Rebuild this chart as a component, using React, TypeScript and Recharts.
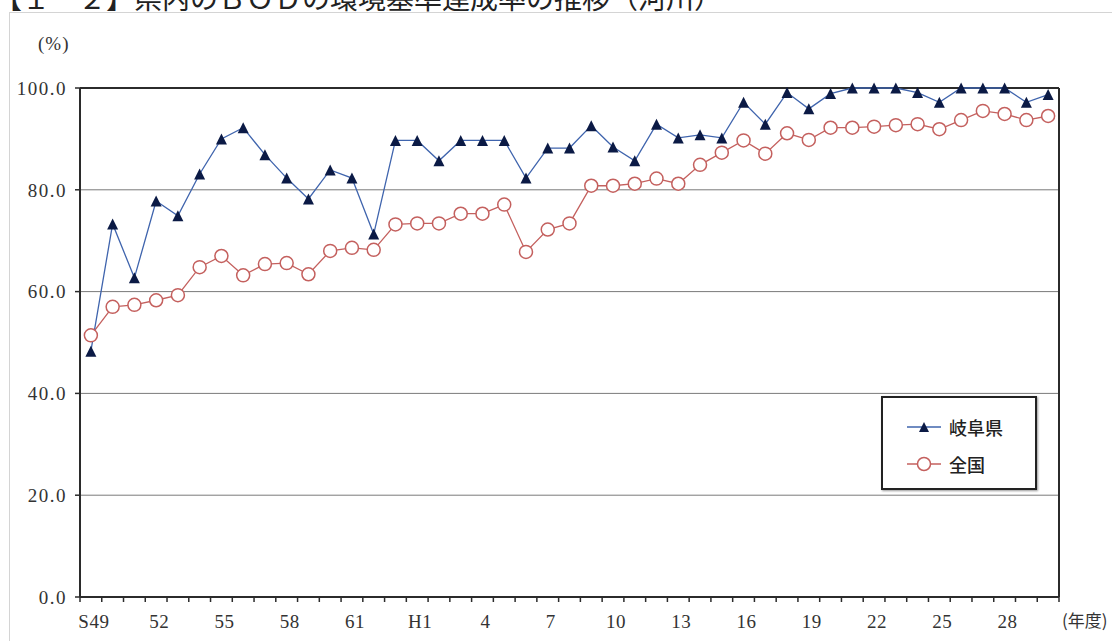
import { LineChart, Line, XAxis, YAxis, CartesianGrid, ReferenceLine, Legend } from "recharts";

// 年度 S49 (1974) .. H30 (2018)
const years = [
  "S49", "S50", "S51", "S52", "S53", "S54", "S55", "S56", "S57", "S58",
  "S59", "S60", "S61", "S62", "S63", "H1", "H2", "H3", "H4", "H5",
  "H6", "H7", "H8", "H9", "H10", "H11", "H12", "H13", "H14", "H15",
  "H16", "H17", "H18", "H19", "H20", "H21", "H22", "H23", "H24", "H25",
  "H26", "H27", "H28", "H29", "H30",
];

// 岐阜県
const gifu = [
  48.3, 73.3, 62.7, 77.8, 74.9, 83.1, 90.0, 92.2, 86.9, 82.3,
  78.2, 83.9, 82.3, 71.3, 89.7, 89.7, 85.7, 89.7, 89.7, 89.7,
  82.3, 88.2, 88.2, 92.6, 88.4, 85.7, 92.9, 90.2, 90.8, 90.2,
  97.2, 92.9, 99.1, 95.9, 98.9, 100, 100, 100, 99.1, 97.2,
  100, 100, 100, 97.2, 98.7,
];

// 全国
const national = [
  51.4, 57.0, 57.4, 58.3, 59.3, 64.8, 67.0, 63.2, 65.4, 65.6,
  63.4, 68.0, 68.6, 68.2, 73.2, 73.4, 73.4, 75.3, 75.3, 77.1,
  67.8, 72.2, 73.4, 80.8, 80.8, 81.2, 82.2, 81.2, 84.9, 87.3,
  89.7, 87.1, 91.1, 89.8, 92.2, 92.2, 92.4, 92.7, 92.9, 91.9,
  93.7, 95.5, 94.9, 93.7, 94.5,
];

const labelYears = ["S49", "S52", "S55", "S58", "S61", "H1", "H4", "H7", "H10", "H13", "H16", "H19", "H22", "H25", "H28"];
const labelText = ["S49", "52", "55", "58", "61", "H1", "4", "7", "10", "13", "16", "19", "22", "25", "28"];
const yTicks = [0, 20, 40, 60, 80, 100];

const title = "【１－２】県内のＢＯＤの環境基準達成率の推移（河川）";

const data = years.map((y, i) => ({ x: i, year: y, gifu: gifu[i], national: national[i] }));

// tick marks sit on the year boundaries, labels on the year centres
const boundaries = years.map((_, i) => i - 0.5).concat([years.length - 0.5]);
const labelIndex = labelYears.map((y) => years.indexOf(y));
const xTicks = [...boundaries, ...labelIndex].sort((a, b) => a - b);

const SERIF = '"Liberation Serif", "DejaVu Serif", serif';
const CJK = '"Noto Sans CJK JP", "Noto Sans", sans-serif';
const BLUE = "#3f64ad";
const NAVY = "#0b1a45";
const RED = "#c4605e";
const AXIS = "#2b2b2b";

function XTick({ x, y, payload }: any) {
  const v = payload.value as number;
  if (!Number.isInteger(v)) {
    return <line x1={x} x2={x} y1={y} y2={y + 5} stroke={AXIS} strokeWidth={1.5} />;
  }
  const k = labelIndex.indexOf(v);
  if (k < 0) return null;
  return (
    <text x={x + 3} y={y + 31} textAnchor="middle" fill="#333" fontFamily={SERIF} fontSize={19} letterSpacing={0.5}>
      {labelText[k]}
    </text>
  );
}

function Triangle({ cx, cy, size = 11 }: { cx: number; cy: number; size?: number }) {
  const h = size / 2;
  return <polygon points={`${cx},${cy - h} ${cx + h},${cy + h} ${cx - h},${cy + h}`} fill={NAVY} />;
}

function LegendBox({ payload }: any) {
  const items = (payload || []) as any[];
  return (
    <div
      style={{
        width: 156,
        height: 94,
        boxSizing: "border-box",
        border: "2px solid #222",
        boxShadow: "1px 1px 2px #999",
        background: "#fff",
        paddingTop: 14,
      }}
    >
      {items.map((it) => (
        <div key={it.value} style={{ display: "flex", alignItems: "center", height: 45, marginTop: -8 }}>
          <svg width={36} height={16} style={{ marginLeft: 24 }}>
            <line x1={0} x2={34} y1={8} y2={8} stroke={it.color} strokeWidth={1.5} />
            {it.dataKey === "gifu" ? (
              <Triangle cx={17} cy={8} size={10} />
            ) : (
              <circle cx={17} cy={8} r={6.5} fill="#fff" stroke={RED} strokeWidth={1.5} />
            )}
          </svg>
          <span style={{ marginLeft: 6, fontFamily: CJK, fontSize: 18, fontWeight: 500, color: "#222" }}>{it.value}</span>
        </div>
      ))}
    </div>
  );
}

export default function App() {
  return (
    <div style={{ position: "fixed", left: 0, top: 0, width: 1112, height: 641, overflow: "hidden", background: "#fff" }}>
      <svg width={1112} height={641} style={{ position: "absolute", left: 0, top: 0 }}>
        <text x={-6} y={9} fontFamily={CJK} fontSize={28} fill="#222">
          {title}
        </text>
        <rect x={9.5} y={12.5} width={1200} height={700} fill="none" stroke="#d4d4d4" />
        <text x={38} y={50} fontFamily={SERIF} fontSize={19} fill="#333" letterSpacing={1}>
          (%)
        </text>
        <text x={1062} y={627} fontFamily={CJK} fontSize={17} fill="#333">
          (年度)
        </text>
      </svg>
      <LineChart
        width={1112}
        height={641}
        data={data}
        margin={{ top: 88, right: 53, bottom: 14, left: 0 }}
        style={{ position: "absolute", left: 0, top: 0 }}
      >
        <CartesianGrid vertical={false} stroke="#7a7a7a" strokeWidth={1} />
        <XAxis
          dataKey="x"
          type="number"
          domain={[-0.5, years.length - 0.5]}
          ticks={xTicks}
          interval={0}
          allowDecimals
          tickSize={0}
          tickMargin={0}
          tickLine={false}
          axisLine={{ stroke: AXIS, strokeWidth: 2 }}
          tick={<XTick />}
          height={30}
        />
        <YAxis
          type="number"
          domain={[0, 100]}
          ticks={yTicks}
          width={80}
          tickSize={5}
          tickMargin={8}
          tickFormatter={(v: number) => v.toFixed(1)}
          tickLine={{ stroke: AXIS, strokeWidth: 1.5 }}
          axisLine={{ stroke: AXIS, strokeWidth: 2 }}
          tick={{ fill: "#333", fontFamily: SERIF, fontSize: 19, letterSpacing: 1.5 }}
        />
        <ReferenceLine y={100} stroke={AXIS} strokeWidth={2} />
        <ReferenceLine x={years.length - 0.5} stroke={AXIS} strokeWidth={2} />
        <Line
          dataKey="national"
          name="全国"
          stroke={RED}
          strokeWidth={1.3}
          isAnimationActive={false}
          dot={{ r: 6.5, fill: "#fff", stroke: RED, strokeWidth: 1.5 }}
          activeDot={false}
        />
        <Line
          dataKey="gifu"
          name="岐阜県"
          stroke={BLUE}
          strokeWidth={1.3}
          isAnimationActive={false}
          dot={(p: any) => <Triangle key={p.index} cx={p.cx} cy={p.cy} />}
          activeDot={false}
        />
        <Legend
          layout="vertical"
          align="center"
          verticalAlign="middle"
          itemSorter={(item: any) => (item.dataKey === "gifu" ? 0 : 1)}
          content={<LegendBox />}
          wrapperStyle={{ left: 881, top: 396, width: 156, height: 94 }}
        />
      </LineChart>
    </div>
  );
}
